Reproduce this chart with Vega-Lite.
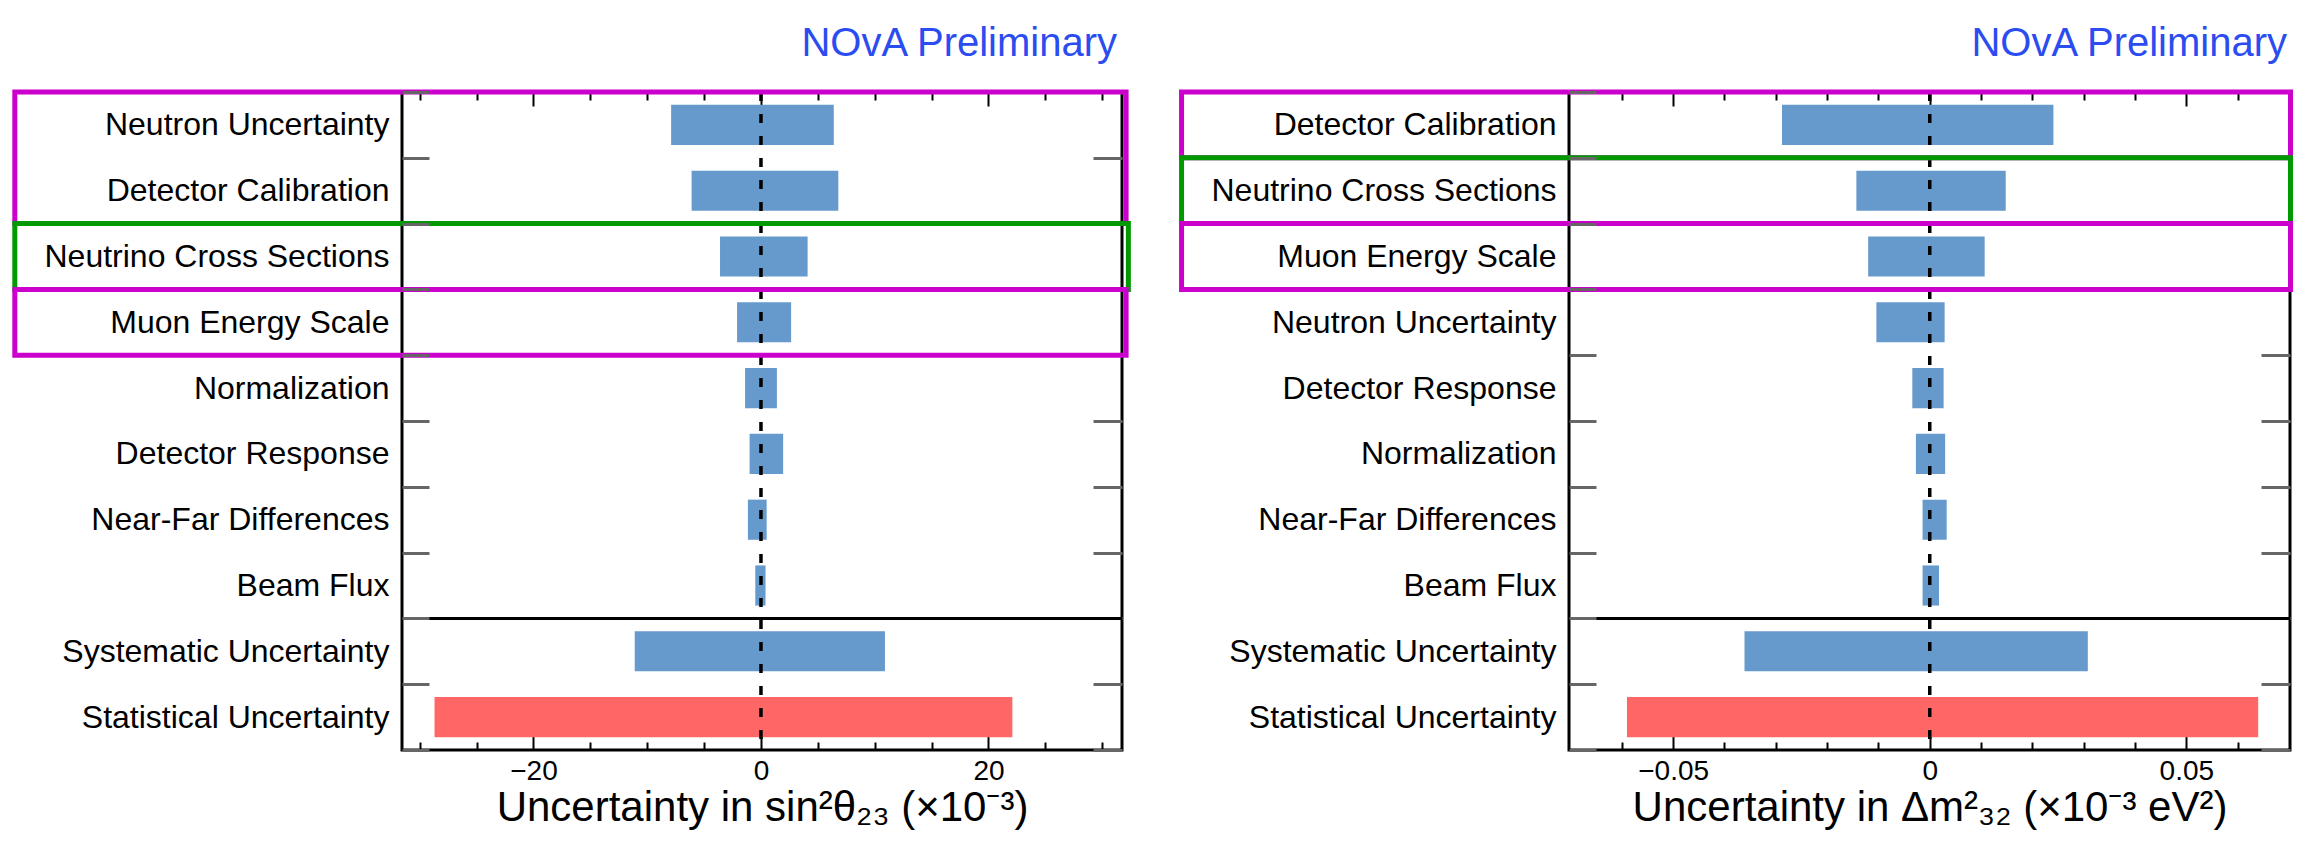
{
  "$schema": "https://vega.github.io/schema/vega-lite/v6.json",
  "background": "white",
  "padding": {"left": 10, "top": 22, "right": 5, "bottom": 5},
  "datasets": {
    "leftBars": [
      {"label": "Neutron Uncertainty", "lo": -7.9, "hi": 6.4, "kind": "syst"},
      {"label": "Detector Calibration", "lo": -6.1, "hi": 6.8, "kind": "syst"},
      {"label": "Neutrino Cross Sections", "lo": -3.6, "hi": 4.1, "kind": "syst"},
      {"label": "Muon Energy Scale", "lo": -2.1, "hi": 2.65, "kind": "syst"},
      {"label": "Normalization", "lo": -1.4, "hi": 1.4, "kind": "syst"},
      {"label": "Detector Response", "lo": -1.0, "hi": 1.95, "kind": "syst"},
      {"label": "Near-Far Differences", "lo": -1.15, "hi": 0.5, "kind": "syst"},
      {"label": "Beam Flux", "lo": -0.5, "hi": 0.4, "kind": "syst"},
      {"label": "Systematic Uncertainty", "lo": -11.1, "hi": 10.9, "kind": "syst"},
      {"label": "Statistical Uncertainty", "lo": -28.7, "hi": 22.1, "kind": "stat"}
    ],
    "rightBars": [
      {"label": "Detector Calibration", "lo": -0.0288, "hi": 0.0241, "kind": "syst"},
      {"label": "Neutrino Cross Sections", "lo": -0.0143, "hi": 0.0148, "kind": "syst"},
      {"label": "Muon Energy Scale", "lo": -0.012, "hi": 0.0107, "kind": "syst"},
      {"label": "Neutron Uncertainty", "lo": -0.0104, "hi": 0.0029, "kind": "syst"},
      {"label": "Detector Response", "lo": -0.0034, "hi": 0.0027, "kind": "syst"},
      {"label": "Normalization", "lo": -0.0027, "hi": 0.003, "kind": "syst"},
      {"label": "Near-Far Differences", "lo": -0.0014, "hi": 0.0033, "kind": "syst"},
      {"label": "Beam Flux", "lo": -0.0014, "hi": 0.0018, "kind": "syst"},
      {"label": "Systematic Uncertainty", "lo": -0.0361, "hi": 0.0308, "kind": "syst"},
      {"label": "Statistical Uncertainty", "lo": -0.059, "hi": 0.064, "kind": "stat"}
    ],
    "leftBoxes": [
      {"from": "Neutron Uncertainty", "to": "Detector Calibration", "x0": -65.6, "x1": 32.1, "group": "A"},
      {"from": "Neutrino Cross Sections", "to": "Neutrino Cross Sections", "x0": -65.6, "x1": 32.3, "group": "B"},
      {"from": "Muon Energy Scale", "to": "Muon Energy Scale", "x0": -65.6, "x1": 32.1, "group": "A"}
    ],
    "rightBoxes": [
      {"from": "Detector Calibration", "to": "Detector Calibration", "x0": -0.1458, "x1": 0.0703, "group": "A"},
      {"from": "Neutrino Cross Sections", "to": "Neutrino Cross Sections", "x0": -0.1458, "x1": 0.0703, "group": "B"},
      {"from": "Muon Energy Scale", "to": "Muon Energy Scale", "x0": -0.1458, "x1": 0.0703, "group": "A"}
    ],
    "separator": [{"label": "Systematic Uncertainty"}],
    "zero": [{"v": 0}]
  },
  "hconcat": [
    {
      "width": 720,
      "height": 658,
      "title": {"text": "NOvA Preliminary", "anchor": "end", "frame": "group", "dx": -5, "offset": -20, "baseline": "alphabetic", "fontSize": 40, "fontWeight": "normal", "color": "#2b4cf0", "font": "Liberation Sans"},
      "resolve": {"scale": {"y": "independent"}, "axis": {"x": "independent"}},
      "layer": [
        {
          "data": {"name": "leftBars"},
          "transform": [{"filter": "datum.kind === 'syst'"}],
          "mark": {"type": "bar", "color": "#6699cc"},
          "encoding": {
            "y": {"field": "label", "type": "nominal", "scale": {"domain": ["Neutron Uncertainty", "Detector Calibration", "Neutrino Cross Sections", "Muon Energy Scale", "Normalization", "Detector Response", "Near-Far Differences", "Beam Flux", "Systematic Uncertainty", "Statistical Uncertainty"], "paddingInner": 0.39, "paddingOuter": 0.195}, "axis": null},
            "x": {"field": "lo", "type": "quantitative", "scale": {"domain": [-31.56, 31.74], "nice": false, "zero": false}, "axis": {"orient": "bottom", "values": [-20, 0, 20], "format": "d", "tickSize": -14, "labelPadding": 21, "title": "Uncertainty in sin²θ₂₃ (×10⁻³)"}},
            "x2": {"field": "hi"}
          }
        },
        {
          "data": {"name": "leftBars"},
          "transform": [{"filter": "datum.kind === 'stat'"}],
          "mark": {"type": "bar", "color": "#ff6666"},
          "encoding": {
            "y": {"field": "label", "type": "nominal", "scale": {"domain": ["Neutron Uncertainty", "Detector Calibration", "Neutrino Cross Sections", "Muon Energy Scale", "Normalization", "Detector Response", "Near-Far Differences", "Beam Flux", "Systematic Uncertainty", "Statistical Uncertainty"], "paddingInner": 0.39, "paddingOuter": 0.195}, "axis": null},
            "x": {"field": "lo", "type": "quantitative", "scale": {"domain": [-31.56, 31.74], "nice": false, "zero": false}, "axis": {"orient": "bottom", "values": [-30, -25, -15, -10, -5, 5, 10, 15, 25, 30], "tickSize": -8, "labels": false, "title": null}},
            "x2": {"field": "hi"}
          }
        },
        {
          "data": {"name": "zero"},
          "mark": {"type": "rule", "color": "black", "strokeWidth": 3.5, "strokeDash": [9, 13]},
          "encoding": {
            "x": {"field": "v", "type": "quantitative", "scale": {"domain": [-31.56, 31.74], "nice": false, "zero": false}, "axis": {"orient": "top", "values": [-30, -25, -15, -10, -5, 5, 10, 15, 25, 30], "tickSize": -8, "labels": false, "title": null}}
          }
        },
        {
          "data": {"name": "separator"},
          "mark": {"type": "rule", "color": "black", "strokeWidth": 3},
          "encoding": {
            "y": {"field": "label", "type": "nominal", "bandPosition": 0, "scale": {"domain": ["Neutron Uncertainty", "Detector Calibration", "Neutrino Cross Sections", "Muon Energy Scale", "Normalization", "Detector Response", "Near-Far Differences", "Beam Flux", "Systematic Uncertainty", "Statistical Uncertainty"], "padding": 0}, "axis": {"orient": "right", "tickBand": "extent", "tickSize": -29, "tickColor": "#666666", "tickWidth": 3, "labels": false, "title": null}}
          }
        },
        {
          "data": {"name": "leftBoxes"},
          "mark": {"type": "rect", "filled": false, "strokeWidth": 5},
          "encoding": {
            "y": {"field": "from", "type": "nominal", "bandPosition": 0, "scale": {"domain": ["Neutron Uncertainty", "Detector Calibration", "Neutrino Cross Sections", "Muon Energy Scale", "Normalization", "Detector Response", "Near-Far Differences", "Beam Flux", "Systematic Uncertainty", "Statistical Uncertainty"], "padding": 0}, "axis": {"orient": "left", "tickBand": "extent", "tickSize": -27, "tickColor": "#666666", "tickWidth": 3, "labelPadding": 40, "title": null}},
            "y2": {"field": "to", "bandPosition": 1},
            "x": {"field": "x0", "type": "quantitative", "scale": {"domain": [-31.56, 31.74], "nice": false, "zero": false}, "axis": {"orient": "top", "values": [-20, 0, 20], "tickSize": -14, "labels": false, "title": null}},
            "x2": {"field": "x1"},
            "stroke": {"field": "group", "type": "nominal", "scale": {"domain": ["A", "B"], "range": ["#cc00cc", "#009900"]}, "legend": null}
          }
        }
      ]
    },
    {
      "width": 721,
      "height": 658,
      "title": {"text": "NOvA Preliminary", "anchor": "end", "frame": "group", "dx": -3, "offset": -20, "baseline": "alphabetic", "fontSize": 40, "fontWeight": "normal", "color": "#2b4cf0", "font": "Liberation Sans"},
      "resolve": {"scale": {"y": "independent"}, "axis": {"x": "independent"}},
      "layer": [
        {
          "data": {"name": "rightBars"},
          "transform": [{"filter": "datum.kind === 'syst'"}],
          "mark": {"type": "bar", "color": "#6699cc"},
          "encoding": {
            "y": {"field": "label", "type": "nominal", "scale": {"domain": ["Detector Calibration", "Neutrino Cross Sections", "Muon Energy Scale", "Neutron Uncertainty", "Detector Response", "Normalization", "Near-Far Differences", "Beam Flux", "Systematic Uncertainty", "Statistical Uncertainty"], "paddingInner": 0.39, "paddingOuter": 0.195}, "axis": null},
            "x": {"field": "lo", "type": "quantitative", "scale": {"domain": [-0.0703, 0.0702], "nice": false, "zero": false}, "axis": {"orient": "bottom", "values": [-0.05, 0, 0.05], "format": "~g", "tickSize": -14, "labelPadding": 21, "title": "Uncertainty in Δm²₃₂ (×10⁻³ eV²)"}},
            "x2": {"field": "hi"}
          }
        },
        {
          "data": {"name": "rightBars"},
          "transform": [{"filter": "datum.kind === 'stat'"}],
          "mark": {"type": "bar", "color": "#ff6666"},
          "encoding": {
            "y": {"field": "label", "type": "nominal", "scale": {"domain": ["Detector Calibration", "Neutrino Cross Sections", "Muon Energy Scale", "Neutron Uncertainty", "Detector Response", "Normalization", "Near-Far Differences", "Beam Flux", "Systematic Uncertainty", "Statistical Uncertainty"], "paddingInner": 0.39, "paddingOuter": 0.195}, "axis": null},
            "x": {"field": "lo", "type": "quantitative", "scale": {"domain": [-0.0703, 0.0702], "nice": false, "zero": false}, "axis": {"orient": "bottom", "values": [-0.06, -0.04, -0.03, -0.02, -0.01, 0.01, 0.02, 0.03, 0.04, 0.06], "tickSize": -8, "labels": false, "title": null}},
            "x2": {"field": "hi"}
          }
        },
        {
          "data": {"name": "zero"},
          "mark": {"type": "rule", "color": "black", "strokeWidth": 3.5, "strokeDash": [9, 13]},
          "encoding": {
            "x": {"field": "v", "type": "quantitative", "scale": {"domain": [-0.0703, 0.0702], "nice": false, "zero": false}, "axis": {"orient": "top", "values": [-0.06, -0.04, -0.03, -0.02, -0.01, 0.01, 0.02, 0.03, 0.04, 0.06], "tickSize": -8, "labels": false, "title": null}}
          }
        },
        {
          "data": {"name": "separator"},
          "mark": {"type": "rule", "color": "black", "strokeWidth": 3},
          "encoding": {
            "y": {"field": "label", "type": "nominal", "bandPosition": 0, "scale": {"domain": ["Detector Calibration", "Neutrino Cross Sections", "Muon Energy Scale", "Neutron Uncertainty", "Detector Response", "Normalization", "Near-Far Differences", "Beam Flux", "Systematic Uncertainty", "Statistical Uncertainty"], "padding": 0}, "axis": {"orient": "right", "tickBand": "extent", "tickSize": -29, "tickColor": "#666666", "tickWidth": 3, "labels": false, "title": null}}
          }
        },
        {
          "data": {"name": "rightBoxes"},
          "mark": {"type": "rect", "filled": false, "strokeWidth": 5},
          "encoding": {
            "y": {"field": "from", "type": "nominal", "bandPosition": 0, "scale": {"domain": ["Detector Calibration", "Neutrino Cross Sections", "Muon Energy Scale", "Neutron Uncertainty", "Detector Response", "Normalization", "Near-Far Differences", "Beam Flux", "Systematic Uncertainty", "Statistical Uncertainty"], "padding": 0}, "axis": {"orient": "left", "tickBand": "extent", "tickSize": -27, "tickColor": "#666666", "tickWidth": 3, "labelPadding": 40, "title": null}},
            "y2": {"field": "to", "bandPosition": 1},
            "x": {"field": "x0", "type": "quantitative", "scale": {"domain": [-0.0703, 0.0702], "nice": false, "zero": false}, "axis": {"orient": "top", "values": [-0.05, 0, 0.05], "tickSize": -14, "labels": false, "title": null}},
            "x2": {"field": "x1"},
            "stroke": {"field": "group", "type": "nominal", "scale": {"domain": ["A", "B"], "range": ["#cc00cc", "#009900"]}, "legend": null}
          }
        }
      ]
    }
  ],
  "config": {
    "font": "Liberation Sans",
    "view": {"stroke": "black", "strokeWidth": 3},
    "concat": {"spacing": 44},
    "axis": {
      "domain": false,
      "grid": false,
      "tickColor": "black",
      "tickWidth": 2,
      "labelFont": "Liberation Sans",
      "labelColor": "black",
      "labelLimit": 1000,
      "titleFont": "Liberation Sans",
      "titleColor": "black",
      "titleFontWeight": "normal"
    },
    "axisX": {"labelFontSize": 28, "labelPadding": 10, "titleFontSize": 42, "titlePadding": 2},
    "axisY": {"labelFontSize": 32}
  }
}
